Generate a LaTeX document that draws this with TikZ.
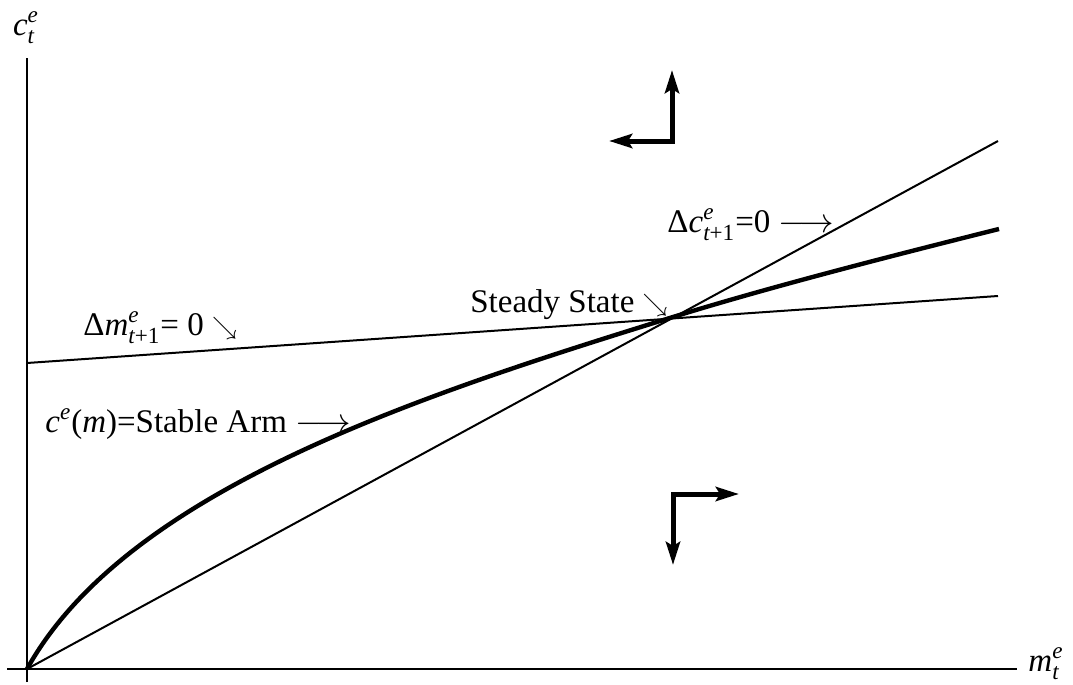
\documentclass[tikz,border=0pt]{standalone}
\usepackage{amsmath}
\usepackage{fontspec}
\setmainfont{Liberation Serif}
\usetikzlibrary{arrows.meta}
\newcommand{\iv}[1]{\textit{#1}}
\newcommand{\sear}{\raisebox{0.5pt}{\scalebox{0.72}{$\searrow$}}}
\begin{document}
\begin{tikzpicture}[x=0.5pt,y=-0.5pt,
  font=\fontsize{16.5}{20}\selectfont,
  axisline/.style={line width=0.7pt},
  nullcline/.style={line width=1pt},
  stablearm/.style={line width=2.2pt},
  phasearrow/.style={line width=2.5pt,line join=miter,{Stealth[length=11.5pt,width=7pt,inset=2pt]}-{Stealth[length=11.5pt,width=7pt,inset=2pt]}},
  lbl/.style={anchor=base west,inner sep=0pt}]
\useasboundingbox (0,0) rectangle (1073,685);
% axes
\coordinate (O) at (27,669);
\coordinate (ytop) at (27,58);
\coordinate (ybot) at (27,682);
\coordinate (xleft) at (7,669);
\coordinate (xright) at (1017,669);
\draw[axisline] (ybot) -- (ytop);
\draw[axisline] (xleft) -- (xright);
\node (ylab) at (26,28) {$\iv{c}^{\iv{e}}_{\iv{t}}$};
\node (xlab) at (1046,664) {$\iv{m}^{\iv{e}}_{\iv{t}}$};
% nullclines
\coordinate (dcend) at (998,141);
\coordinate (dmstart) at (27,363);
\coordinate (dmend) at (998,296);
\draw[nullcline] (O) -- (dcend);
\draw[nullcline] (dmstart) -- (dmend);
% stable arm
\coordinate (ss) at (673,317);
\coordinate (saend) at (999,229);
\draw[stablearm] (O) .. controls (127,489) and (423,394.5) .. (ss)
  .. controls (773,286) and (899,254) .. (saend);
% labels
\node[lbl] (dmlab) at (83,335) {Δ$\iv{m}^{\iv{e}}_{\iv{t}\text{+1}}$= 0 \sear};
\node[lbl] (salab) at (45,432) {$\iv{c}^{\iv{e}}$(\iv{m})=Stable Arm $\longrightarrow$};
\node[lbl] (sslab) at (470,312) {Steady State \sear};
\node[lbl] (dclab) at (667,232) {Δ$\iv{c}^{\iv{e}}_{\iv{t}\text{+1}}$=0 $\longrightarrow$};
% phase arrows
\coordinate (c1) at (672,141);
\coordinate (c1up) at (672,70);
\coordinate (c1left) at (609,141);
\draw[phasearrow] (c1left) -- (c1) -- (c1up);
\coordinate (c2) at (673,494);
\coordinate (c2right) at (739,494);
\coordinate (c2down) at (673,565);
\draw[phasearrow] (c2right) -- (c2) -- (c2down);
\end{tikzpicture}
\end{document}
